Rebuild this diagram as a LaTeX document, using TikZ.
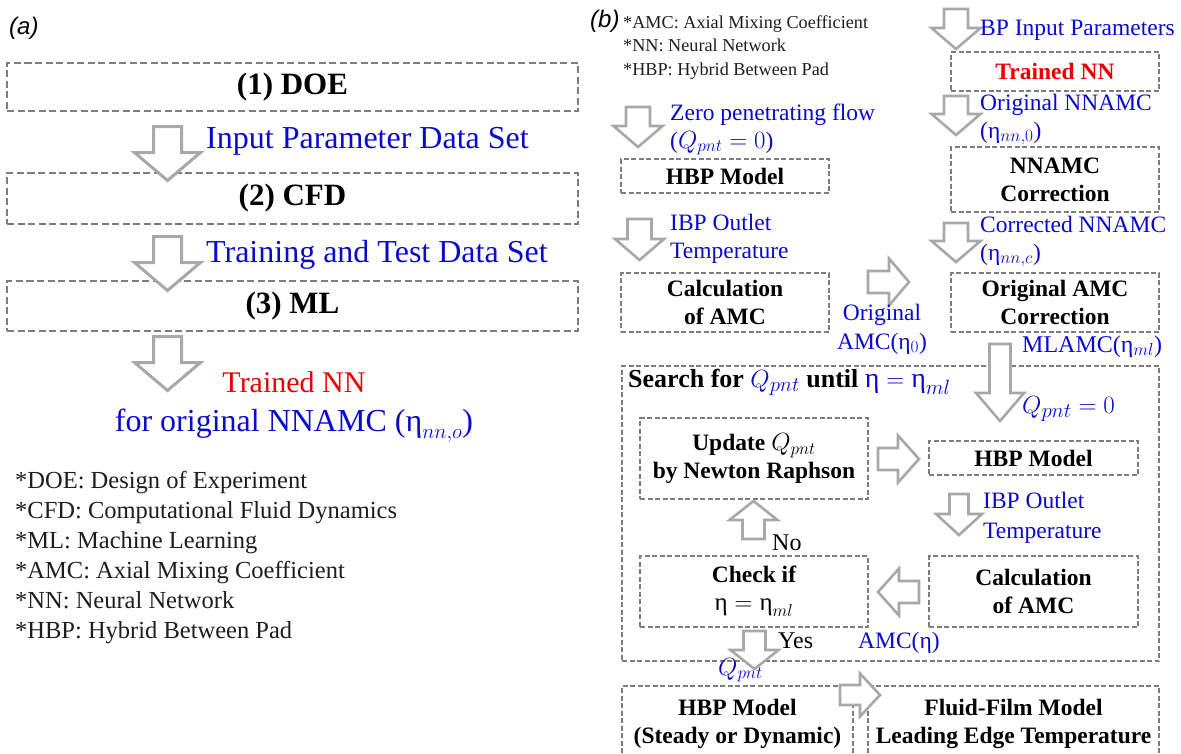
\documentclass[tikz,border=0pt]{standalone}
\usepackage{fontspec}
\setmainfont{Liberation Serif}
\newfontfamily\panelfont{Liberation Sans}
\definecolor{lblue}{RGB}{10,10,205}
\definecolor{lred}{RGB}{235,0,0}
\definecolor{boxgray}{RGB}{125,125,125}
\definecolor{arrgray}{RGB}{168,168,168}
\definecolor{legtext}{RGB}{30,30,30}
\newcommand{\msz}[2]{{\fontsize{#1}{#1}\selectfont#2}}
\tikzset{
  pics/blk/.style args={#1/#2/#3/#4/#5}{code={%
    \draw[#5] (-#2,0) -- (#2,0) -- (#2,#1-#4) -- (#3,#1-#4) -- (0,#1)
      -- (-#3,#1-#4) -- (-#2,#1-#4) -- cycle;}},
  boxa/.style={draw=boxgray, line width=2.2pt, dash pattern=on 7pt off 3.5pt,
    inner sep=0pt, font=\fontsize{31}{36}\selectfont\bfseries},
  boxb/.style={draw=boxgray, line width=1.6pt, dash pattern=on 5pt off 2.5pt,
    inner sep=0pt, align=center, font=\fontsize{23.5}{28}\selectfont\bfseries},
  arra/.style={draw=arrgray, fill=white, line width=3pt},
  arrb/.style={draw=arrgray, fill=white, line width=2.6pt},
  lbla/.style={anchor=base west, inner sep=0pt, text=lblue, font=\fontsize{32}{36}\selectfont},
  lblb/.style={anchor=base west, inner sep=0pt, text=lblue, font=\fontsize{23.5}{28}\selectfont},
  lega/.style={anchor=base west, inner sep=0pt, text=legtext, font=\fontsize{24.5}{30}\selectfont},
  legb/.style={anchor=base west, inner sep=0pt, text=legtext, font=\fontsize{18.2}{22}\selectfont},
  blk/.style={anchor=base west, inner sep=0pt, text=black, font=\fontsize{24}{28}\selectfont},
  panel/.style={anchor=base west, inner sep=0pt, font=\panelfont\itshape\fontsize{24}{28}\selectfont}
}
\begin{document}
\begin{tikzpicture}[x=1pt,y=-1pt]
\useasboundingbox (0,0) rectangle (1181,753);
\clip (0,0) rectangle (1181,753);
\fill[white] (0,0) rectangle (1181,753);

% ---------------- panel (a) ----------------
\node[panel] (pa) at (9,34) {(a)};
\node[boxa, minimum width=571pt, minimum height=48pt] (doe) at (292.5,87) {(1) DOE};
\node[boxa, minimum width=571pt, minimum height=51pt] (cfd) at (292.5,198.5) {(2) CFD};
\node[boxa, minimum width=571pt, minimum height=50pt] (ml) at (292.5,306) {(3) ML};
\pic at (167.5,126.5) {blk=54/14/33/28/arra};
\pic at (167.5,236.5) {blk=54/14/33/28/arra};
\pic at (167.5,336.5) {blk=54/14/33/28/arra};
\node[lbla] (inpar) at (206,148) {Input Parameter Data Set};
\node[lbla] (trdata) at (206,262) {Training and Test Data Set};
\node[anchor=base, inner sep=0pt, text=lred, font=\fontsize{30}{36}\selectfont] (trnn) at (294,392) {Trained NN};
\node[anchor=base, inner sep=0pt, text=lblue, font=\fontsize{32}{36}\selectfont] (fornn) at (294,431) {for original NNAMC ($\mbox{η}_{nn,o}$)};
\node[lega] (la1) at (15,488) {*DOE: Design of Experiment};
\node[lega] (la2) at (15,518) {*CFD: Computational Fluid Dynamics};
\node[lega] (la3) at (15,548) {*ML: Machine Learning};
\node[lega] (la4) at (15,578) {*AMC: Axial Mixing Coefficient};
\node[lega] (la5) at (15,608) {*NN: Neural Network};
\node[lega] (la6) at (15,638) {*HBP: Hybrid Between Pad};

% ---------------- panel (b) ----------------
\node[panel] (pb) at (590,27) {(b)};
\node[legb] (lb1) at (623,28) {*AMC: Axial Mixing Coefficient};
\node[legb] (lb2) at (623,51.5) {*NN: Neural Network};
\node[legb] (lb3) at (623,75) {*HBP: Hybrid Between Pad};

\node[boxb, minimum width=208pt, minimum height=34pt] (hbpa) at (725,176) {HBP Model};
\node[boxb, minimum width=208pt, minimum height=59pt] (calca) at (725,302.5) {Calculation\\of AMC};
\node[boxb, minimum width=208pt, minimum height=39pt, text=lred] (trained) at (1055,71.5) {Trained NN};
\node[boxb, minimum width=208pt, minimum height=65pt] (nncorr) at (1055,179.5) {NNAMC\\Correction};
\node[boxb, minimum width=208pt, minimum height=59pt] (origcorr) at (1055,302.5) {Original AMC\\Correction};
\node[boxb, minimum width=537pt, minimum height=295pt] (search) at (890.5,513.5) {};
\node[boxb, minimum width=228pt, minimum height=81pt] (update) at (754,458.5) {Update \msz{26}{\mdseries$Q_{pnt}$}\\by Newton Raphson};
\node[boxb, minimum width=209pt, minimum height=34pt] (hbpb) at (1033.5,458) {HBP Model};
\node[boxb, minimum width=209pt, minimum height=71pt] (calcb) at (1033.5,591.5) {Calculation\\of AMC};
\node[boxb, minimum width=228pt, minimum height=71pt] (check) at (754,591.5) {Check if\\\msz{25}{\mdseries$\mbox{η}=\mbox{η}_{ml}$}};
\node[boxb, minimum width=231pt, minimum height=76pt] (hbpf) at (737.5,724) {HBP Model\\(Steady or Dynamic)};
\node[boxb, minimum width=291pt, minimum height=76pt] (fluid) at (1013.5,724) {Fluid-Film Model\\Leading Edge Temperature};

\node[anchor=base west, inner sep=0pt, font=\fontsize{26}{30}\selectfont\bfseries] (stitle) at (628,387)
  {Search for {\color{lblue}\msz{28}{$Q_{pnt}$}} until {\color{lblue}\msz{28}{\mdseries$\mbox{η}=\mbox{η}_{ml}$}}};

% block arrows, panel (b)
\pic at (638,107) {blk=40/12/24.5/21/arrb};
\pic at (639.5,219) {blk=41/12/24.5/21/arrb};
\pic at (956,9) {blk=40/12/24.5/21/arrb};
\pic at (956,96) {blk=39/12/24.5/21/arrb};
\pic at (956,223) {blk=39/12/24.5/21/arrb};
\pic[rotate=90] at (868,282) {blk=41/11/23.5/20/arrb};
\pic at (1000,344) {blk=77/10.5/24/28/arrb};
\pic[rotate=90] at (878,459) {blk=41/11/23.5/21/arrb};
\pic at (959,494) {blk=41/9.5/23/21/arrb};
\pic[rotate=-90] at (919,592) {blk=41/11/23.5/21/arrb};
\pic[rotate=180] at (753.5,539) {blk=38/11/24/19/arrb};
\pic at (754.5,631) {blk=38/11/24/19/arrb};
\pic[rotate=90] at (840,695) {blk=40/10/21.5/20/arrb};

% labels, panel (b)
\node[lblb] (zf1) at (670,120) {Zero penetrating flow};
\node[lblb] (zf2) at (670,148) {($Q_{pnt}=0$)};
\node[lblb] (ibpa1) at (670,230) {IBP Outlet};
\node[lblb] (ibpa2) at (670,258) {Temperature};
\node[lblb] (bpin) at (980,35) {BP Input Parameters};
\node[lblb] (onn1) at (980,110) {Original NNAMC};
\node[lblb] (onn2) at (980,138) {(η$_{nn,0}$)};
\node[lblb] (cnn1) at (980,232) {Corrected NNAMC};
\node[lblb] (cnn2) at (980,260) {(η$_{nn,c}$)};
\node[lblb, anchor=base] (oamc1) at (882,320) {Original};
\node[lblb, anchor=base] (oamc2) at (882,349) {AMC(η$_0$)};
\node[lblb, font=\fontsize{24}{28}\selectfont] (mlamc) at (1022,352) {MLAMC(η$_{ml}$)};
\node[lblb, font=\fontsize{28}{30}\selectfont] (qz) at (1022,413) {$Q_{pnt}=0$};
\node[lblb] (ibpb1) at (983,508) {IBP Outlet};
\node[lblb] (ibpb2) at (983,538) {Temperature};
\node[lblb] (amce) at (858,648) {AMC(η)};
\node[lblb] (qp) at (718,675) {$Q_{pnt}$};
\node[blk] (no) at (772,550) {No};
\node[blk] (yes) at (778,648) {Yes};
\end{tikzpicture}
\end{document}
